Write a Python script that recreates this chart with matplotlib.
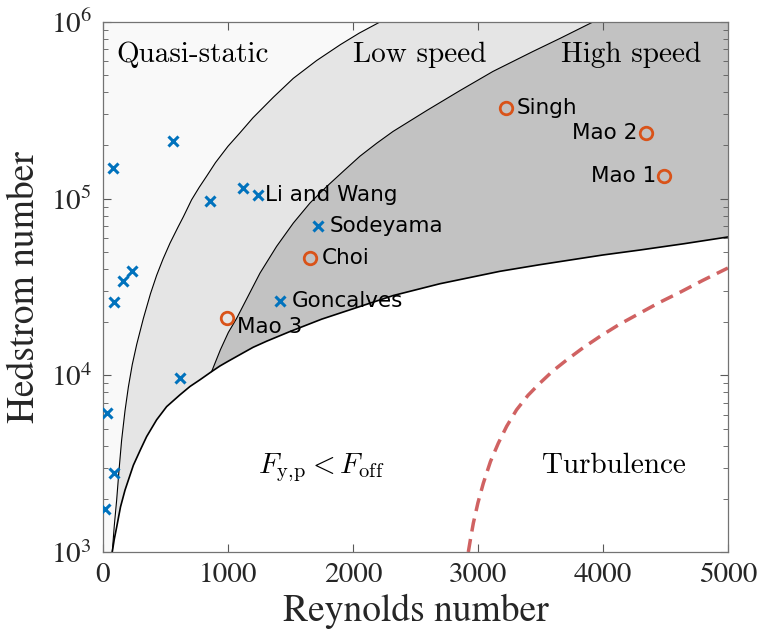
import numpy as np
import matplotlib
matplotlib.use('Agg')
import matplotlib.pyplot as plt
from matplotlib.ticker import FixedLocator, LogLocator, NullFormatter

# ---- boundary curves (Reynolds, Hedstrom) ----
# lower boundary: below it F_y,p < F_off
A_re = [74, 90, 109, 140, 176, 243, 300, 349, 429, 509, 616, 696, 776, 869, 936, 1000, 1096, 1200, 1309, 1496,
        1750, 2000, 2323, 2696, 3176, 3496, 4000, 4296, 4650, 5000]
A_he = [1000, 1180, 1380, 1800, 2240, 3100, 3800, 4500, 5600, 6650, 7760, 8650, 9440, 10500, 11300, 12000, 13100,
        14400, 15600, 17700, 20800, 23800, 28300, 33000, 38800, 42300, 48000, 51200, 55600, 60700]
# quasi-static / low speed
B_re = [74, 90, 109, 128, 149, 176, 203, 234, 270, 323, 380, 429, 480, 536, 600, 643, 709, 770, 829, 900, 1000,
        1096, 1200, 1363, 1523, 1709, 1900, 2050, 2216]
B_he = [1000, 1400, 1960, 2900, 4300, 6300, 8600, 11500, 15000, 21000, 29000, 36800, 45500, 56000, 69000, 79000,
        98600, 116000, 134000, 160000, 198000, 236000, 287000, 375000, 480000, 605000, 745000, 865000, 1000000]
# low speed / high speed
C_re = [869, 940, 1003, 1069, 1160, 1256, 1389, 1523, 1656, 1789, 1923, 2056, 2190, 2320, 2592, 2856, 3120, 3440,
        3656, 3920]
C_he = [10500, 14000, 17500, 21000, 28000, 37900, 53700, 72800, 94500, 117000, 143000, 174000, 206000, 240000,
        316000, 409000, 525000, 681000, 807000, 1000000]
# turbulence limit
D_re = [2923, 2940, 2963, 3000, 3043, 3100, 3163, 3230, 3309, 3400, 3496, 3600, 3709, 3840, 3976, 4130, 4296, 4450,
        4616, 4800, 5000]
D_he = [1000, 1180, 1456, 1900, 2450, 3250, 4130, 5150, 6380, 7700, 9040, 10600, 12200, 14300, 16600, 19400, 22500,
        25800, 29500, 34500, 40500]

# ---- literature points ----
cross_re = [83, 560, 856, 1123, 1243, 1723, 1416, 229, 157, 91, 616, 29, 88, 16]
cross_he = [149000, 213000, 96700, 115000, 105000, 69700, 26200, 39100, 34000, 26000, 9700, 6110, 2790, 1745]
circ_re = [1656, 992, 3224, 4344, 4488]
circ_he = [46100, 21200, 326000, 235000, 135000]

# name, Re, He, offset (px), align
labels = [
    ('Li and Wang', 1243, 105000, (7, 0), 'left'),
    ('Sodeyama', 1723, 69700, (11, 0), 'left'),
    ('Choi', 1656, 46100, (12, 0), 'left'),
    ('Goncalves', 1416, 26200, (12, 0), 'left'),
    ('Mao 3', 992, 21200, (10, -9), 'left'),
    ('Singh', 3224, 326000, (11, 0), 'left'),
    ('Mao 2', 4344, 235000, (-9, 0), 'right'),
    ('Mao 1', 4488, 135000, (-8, 0), 'right'),
]

xticks = [0, 1000, 2000, 3000, 4000, 5000]
yticks = [1e3, 1e4, 1e5, 1e6]
ytick_labels = [r'$10^{3}$', r'$10^{4}$', r'$10^{5}$', r'$10^{6}$']

fig = plt.figure(figsize=(7.63, 6.43), dpi=100)
ax = fig.add_axes([0.135, 0.1415, 0.819, 0.8243])
ax.set_yscale('log')
ax.set_xlim(0, 5000)
ax.set_ylim(1e3, 1e6)

c_qs = '#f9f9f9'
c_ls = '#e5e5e5'
c_hs = '#c2c2c2'

# quasi-static region (left of B)
ax.fill([0] + B_re + [0], [1e3] + B_he + [1e6], color=c_qs, lw=0, zorder=0)
# low speed region (right of B, above A), left edge at Re=109
ib = B_re.index(109)
ia = A_re.index(109)
ls_x = B_re[ib:] + [5000, 5000] + A_re[ia:][::-1]
ls_y = B_he[ib:] + [1e6, A_he[-1]] + A_he[ia:][::-1]
ax.fill(ls_x, ls_y, color=c_ls, lw=0, zorder=0)
# high speed region (right of C, above A)
i0 = A_re.index(C_re[0])
hs_x = C_re + [5000, 5000] + A_re[i0:][::-1]
hs_y = C_he + [1e6, A_he[-1]] + A_he[i0:][::-1]
ax.fill(hs_x, hs_y, color=c_hs, lw=0, zorder=0)

ax.plot(A_re, A_he, color='black', lw=1.2, zorder=2)
ax.plot(B_re, B_he, color='black', lw=0.8, zorder=2)
ax.plot(C_re, C_he, color='black', lw=0.8, zorder=2)
ax.plot(D_re, D_he, color='#d06262', lw=2.5, ls=(0, (3.8, 2.2)), zorder=2)

ax.plot(cross_re, cross_he, 'x', color='#0072BD', ms=7.5, mew=2.2, zorder=3)
ax.plot(circ_re, circ_he, 'o', color='#D95319', mfc='none', ms=9, mew=2, zorder=3)

for name, x, y, off, ha in labels:
    ax.annotate(name, (x, y), xytext=off, textcoords='offset pixels',
                ha=ha, va='center', fontsize=15.5, family='DejaVu Sans', zorder=4)

# region names
ax.text(720, 6.5e5, 'Quasi-static', family='cmr10', fontsize=21, ha='center', va='center')
ax.text(2536, 6.5e5, 'Low speed', family='cmr10', fontsize=21, ha='center', va='center')
ax.text(4224, 6.5e5, 'High speed', family='cmr10', fontsize=21, ha='center', va='center')
ax.text(4088, 3070, 'Turbulence', family='cmr10', fontsize=21, ha='center', va='center')
ax.text(1744, 2990, r'$F_{\mathrm{y,\!p}} < F_{\mathrm{off}}$', math_fontfamily='cm',
        fontsize=21, ha='center', va='center')

# axes styling
ax.xaxis.set_major_locator(FixedLocator(xticks))
ax.set_xticklabels([str(t) for t in xticks], family='STIXGeneral', fontsize=21)
ax.yaxis.set_major_locator(FixedLocator(yticks))
ax.yaxis.set_minor_locator(LogLocator(base=10, subs=np.arange(2, 10)))
ax.yaxis.set_minor_formatter(NullFormatter())
ax.set_yticklabels(ytick_labels, fontsize=21)
for t in ax.get_yticklabels():
    t.set_math_fontfamily('stix')

ax.tick_params(which='both', direction='in', top=True, right=True, colors='0.35',
               labelcolor='#262626')
ax.tick_params(which='major', length=6, width=0.8, pad=8)
ax.tick_params(which='minor', length=3.5, width=0.6)
for s in ax.spines.values():
    s.set_color('0.45')
    s.set_linewidth(0.9)

ax.set_xlabel('Reynolds number', family='STIXGeneral', fontsize=27, color='#262626', labelpad=4)
ax.set_ylabel('Hedstrom number', family='STIXGeneral', fontsize=27, color='#262626', labelpad=6)

fig.savefig('out.png', dpi=100)
